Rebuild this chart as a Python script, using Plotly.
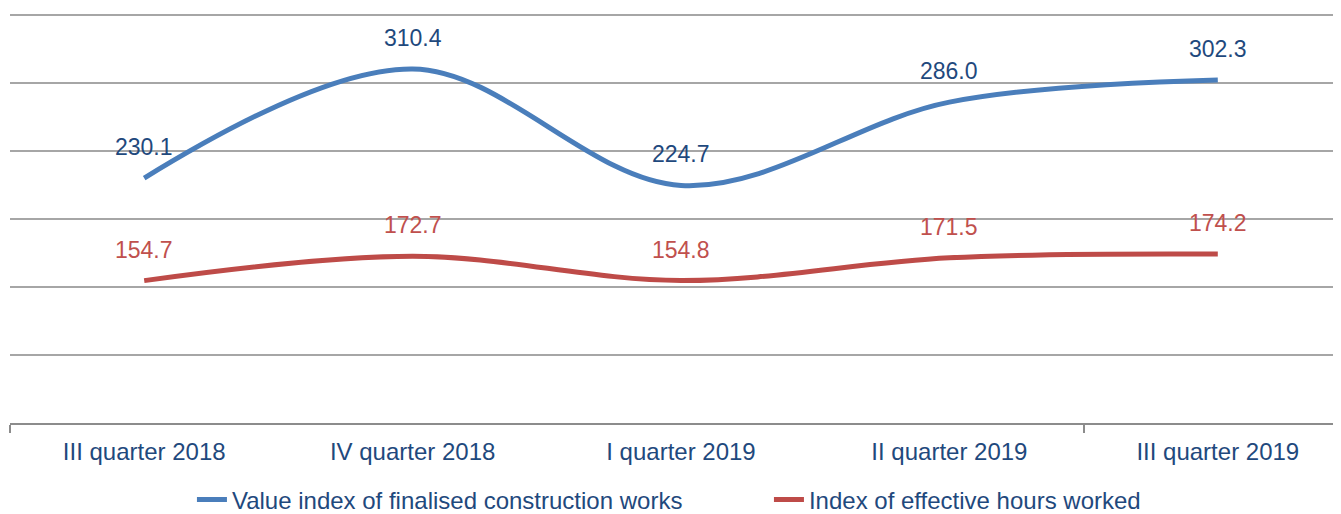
import plotly.graph_objects as go

categories = ["III quarter 2018", "IV quarter 2018", "I quarter 2019", "II quarter 2019", "III quarter 2019"]
value_index = [230.1, 310.4, 224.7, 286.0, 302.3]
hours_index = [154.7, 172.7, 154.8, 171.5, 174.2]
series_names = ["Value index of finalised construction works", "Index of effective hours worked"]

line_colors = ["#4A7EBB", "#BE4B48"]
label_colors = ["#1F497D", "#C0504D"]
text_color = "#1F497D"
FONT = "Liberation Sans, Arial, sans-serif"

x_pos = list(range(len(categories)))

fig = go.Figure()
for name, vals, lc in zip(series_names, [value_index, hours_index], line_colors):
    fig.add_trace(go.Scatter(
        x=x_pos, y=vals, name=name, mode="lines",
        line=dict(color=lc, width=5, shape="spline", smoothing=1),
        hoverinfo="skip",
    ))

annotations = []
for vals, tc in zip([value_index, hours_index], label_colors):
    for xi, v in zip(x_pos, vals):
        annotations.append(dict(
            x=xi, y=v, xref="x", yref="y", text=f"{v:.1f}", showarrow=False,
            yshift=31, font=dict(family=FONT, size=23, color=tc),
        ))

# the page body adds an 8px offset, so the figure is sized to fit the window
fig.update_layout(
    width=1333, height=506,
    margin=dict(l=2, r=0, t=3, b=91, autoexpand=False),
    paper_bgcolor="white", plot_bgcolor="white",
    font=dict(family=FONT, size=24, color=text_color),
    showlegend=True,
    legend=dict(
        orientation="h", x=0.1367, xanchor="left",
        yref="container", y=0.028, yanchor="middle",
        font=dict(family=FONT, size=24, color=text_color),
        entrywidth=532, entrywidthmode="pixels",
        bgcolor="rgba(0,0,0,0)",
    ),
    annotations=annotations,
    xaxis=dict(
        range=[-0.5, 4.459], automargin=False,
        tickmode="array", tickvals=x_pos, ticktext=categories,
        ticks="", showgrid=False, zeroline=False,
        showline=True, linecolor="#8C8C8C", linewidth=2,
        ticklabelstandoff=6,
        tickfont=dict(family=FONT, size=24, color=text_color),
        minor=dict(tickmode="array", tickvals=[-0.5, 3.5], ticks="outside",
                   ticklen=8, tickwidth=2, tickcolor="#8C8C8C", showgrid=False),
        fixedrange=True,
    ),
    yaxis=dict(
        range=[50, 353], tick0=50, dtick=50, automargin=False,
        showticklabels=False, ticks="", zeroline=False,
        showgrid=True, gridcolor="#A6A6A6", gridwidth=2,
        showline=False, fixedrange=True,
    ),
)

fig.write_html("out.html")
